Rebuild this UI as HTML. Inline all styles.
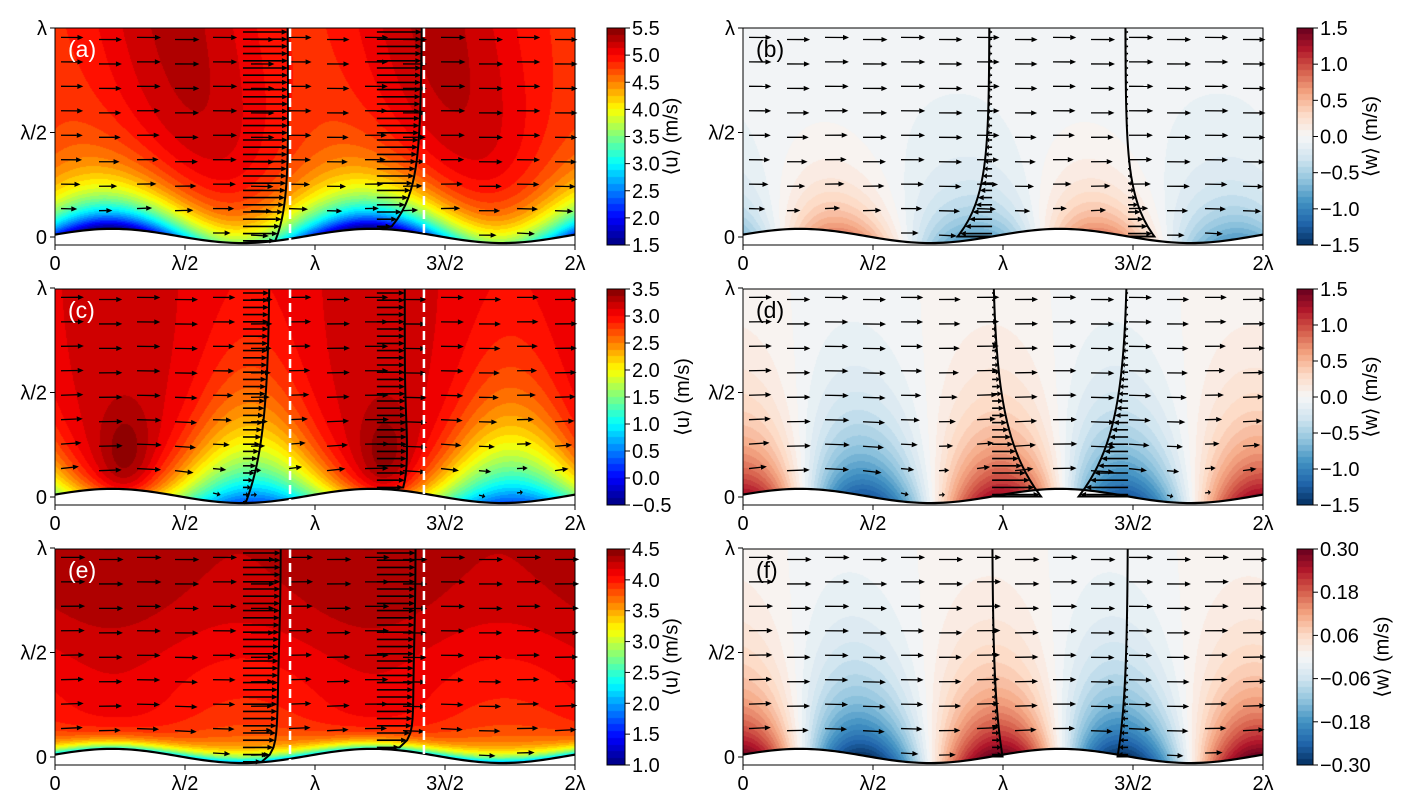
<!DOCTYPE html>
<html><head><meta charset="utf-8">
<style>
body{margin:0;background:#fff;width:1412px;height:812px;overflow:hidden;position:relative;font-family:"Liberation Sans","DejaVu Sans",sans-serif}
canvas{position:absolute}
svg{position:absolute;left:0;top:0}
</style></head>
<body>
<svg id="ov" width="1412" height="812"></svg>
<script>
// ---- data ----
const xTickLabels = ["0","λ/2","λ","3λ/2","2λ"];
const xTickValues = [0,0.5,1,1.5,2];
const yTickLabels = ["0","λ/2","λ"];
const yTickValues = [0,0.5,1];
const cbarTicksA = ["5.5","5.0","4.5","4.0","3.5","3.0","2.5","2.0","1.5"];
const cbarTicksC = ["3.5","3.0","2.5","2.0","1.5","1.0","0.5","0.0","−0.5"];
const cbarTicksE = ["4.5","4.0","3.5","3.0","2.5","2.0","1.5","1.0"];
const cbarTicksW = ["1.5","1.0","0.5","0.0","−0.5","−1.0","−1.5"];
const cbarTicksF = ["0.30","0.18","0.06","−0.06","−0.18","−0.30"];
const uRanges = [[1.5,5.5],[-0.5,3.5],[1.0,4.5]];
const wRanges = [[-1.5,1.5],[-1.5,1.5],[-0.3,0.3]];
const leftProfileBases = [0.723,1.238];
const dashedLines = [0.904,1.419];
const rightProfileBases = [0.958,1.481];
const rightProfileScale = [45,38,35];
const panelLetters = [["(a)","(b)"],["(c)","(d)"],["(e)","(f)"]];

// ---- geometry ----
const rowsTop=[28,289,549], rowsZero=[237,497,757], rowsBot=[245,505,765];
const colX0=[55,743], PXL=260, PYL=209;
const NS='http://www.w3.org/2000/svg';
const ov=document.getElementById('ov');
function el(tag,attrs,parent){const e=document.createElementNS(NS,tag);for(const k in attrs)e.setAttribute(k,attrs[k]);(parent||ov).appendChild(e);return e;}
const TAU=Math.PI*2;
function ys(x){return 0.005+0.034*Math.cos(TAU*(x-0.22));}
function uField(r,x,y){const d=Math.max(y-ys(x),0);
 if(r===0){const base=5.3-0.22*(1+Math.cos(TAU*(x-0.12+0.15*y)));const D=2.6+0.9*Math.cos(TAU*(x-0.22));return base-D*Math.exp(-d/0.16);}
 if(r===1){const A=1.6+1.2*Math.cos(TAU*(x-0.75));const dl=0.18+0.12*Math.cos(TAU*(x-0.75));
   const dark=0.3*Math.exp(-Math.pow((((x%1)+1)%1-0.27)/0.1,2))*Math.exp(-Math.pow((y-0.2)/0.25,2));
   return 3.12+0.05*Math.cos(TAU*(x-0.25))+dark-A*Math.exp(-d/dl);}
 return 4.36+0.05*Math.cos(TAU*(x-0.2))-0.55*Math.exp(-d/0.3)*(1+0.3*Math.cos(TAU*(x-0.75)))-1.7*Math.exp(-d/0.04)-0.12*Math.exp(-Math.pow((y-0.4)/0.3,2));}
function wField(r,x,y){const d=Math.max(y-ys(x),0);
 if(r===0)return 0.8*Math.cos(TAU*(x-0.38+0.1*d))*Math.exp(-d/0.2)-0.06;
 if(r===1)return 1.3*Math.cos(TAU*(x-0.98+0.05*d))*Math.exp(-d/0.3);
 return 0.3*Math.cos(TAU*(x-0.97+0.05*d))*Math.exp(-d/0.3);}
function clamp(v){return Math.max(0,Math.min(1,v));}
function jet(t){return [clamp(1.5-Math.abs(4*t-3)),clamp(1.5-Math.abs(4*t-2)),clamp(1.5-Math.abs(4*t-1))].map(v=>v*255);}
const rb=[[5,48,97],[33,102,172],[67,147,195],[146,197,222],[209,229,240],[247,247,247],[253,219,199],[244,165,130],[214,96,77],[178,24,43],[103,0,31]];
function rdbu(t){t=clamp(t)*10;const i=Math.min(9,Math.floor(t)),f=t-i;return rb[i].map((v,k)=>v+(rb[i+1][k]-v)*f);}
function quant(t,n){return (Math.floor(clamp(t)*n*0.9999)+0.5)/n;}

function drawField(r,c){
 const x0=colX0[c],top=rowsTop[r],bot=rowsBot[r],zero=rowsZero[r];
 const W=520,H=bot-top;
 const cv=document.createElement('canvas');cv.width=W;cv.height=H;cv.style.left=x0+'px';cv.style.top=top+'px';
 
 
 document.body.insertBefore(cv,ov);
 const ctx=cv.getContext('2d');const img=ctx.createImageData(W,H);
 const rng=c===0?uRanges[r]:wRanges[r];
 for(let j=0;j<H;j++){const y=(zero-(top+j+0.5))/PYL;
  for(let i=0;i<W;i++){const x=(i+0.5)/PXL;const p=(j*W+i)*4;
   let col;
   if(y<ys(x)){col=[255,255,255];}
   else{const v=c===0?uField(r,x,y):wField(r,x,y);const t=quant((v-rng[0])/(rng[1]-rng[0]),c===0?32:36);col=c===0?jet(t):rdbu(t);}
   img.data[p]=col[0];img.data[p+1]=col[1];img.data[p+2]=col[2];img.data[p+3]=255;}}
 ctx.putImageData(img,0,0);
}
function drawCbar(r,c,ticks,label){
 const x=c===0?607:1297,w=c===0?18:16,top=rowsTop[r],bot=rowsBot[r],H=bot-top;
 const cv=document.createElement('canvas');cv.width=w;cv.height=H;cv.style.left=x+'px';cv.style.top=top+'px';
 
 
 document.body.insertBefore(cv,ov);
 const ctx=cv.getContext('2d');
 for(let j=0;j<H;j++){const t=quant(1-(j+0.5)/H,c===0?32:36);const col=c===0?jet(t):rdbu(t);ctx.fillStyle=`rgb(${col[0]|0},${col[1]|0},${col[2]|0})`;ctx.fillRect(0,j,w,1);}
 el('rect',{x:x,y:top,width:w,height:H,fill:'none',stroke:'#000','stroke-width':1,});
 let maxw=0;
 ticks.forEach((t,k)=>{const yy=top+H*k/(ticks.length-1);
  el('line',{x1:x+w,y1:yy,x2:x+w+5,y2:yy,stroke:'#000',});
  const tx=el('text',{x:x+w+7,y:yy+7,'font-size':20,});tx.textContent=t;maxw=Math.max(maxw,t.length);});
 const lx=x+w+18+maxw*11.5,ly=(top+bot)/2;
 const lt=el('text',{x:lx,y:ly,'font-size':20,'text-anchor':'middle',transform:`rotate(-90 ${lx} ${ly})`,});lt.textContent=label;
}
function arrow(x1,y1,x2,y2,sw,name){
 const dx=x2-x1,dy=y2-y1,L=Math.hypot(dx,dy);if(L<0.5)return;
 const ux=dx/L,uy=dy/L,hl=Math.min(6,L*0.45),hw=2.6;
 const bx=x2-ux*hl,by=y2-uy*hl;
 const g=el('g',{});
 
 
 el('line',{x1:x1,y1:y1,x2:bx,y2:by,stroke:'#000','stroke-width':sw},g);
 el('polygon',{points:`${x2},${y2} ${bx-uy*hw},${by+ux*hw} ${bx+uy*hw},${by-ux*hw}`,fill:'#000'},g);
}
function panel(r,c){
 const x0=colX0[c],top=rowsTop[r],bot=rowsBot[r],zero=rowsZero[r];
 const px=x=>x0+x*PXL, py=y=>zero-y*PYL;
 drawField(r,c);
 const umax=[5.4,3.4,4.45][r];
 for(let i=0;i<14;i++){const xl=(6+i*38)/PXL;
  for(let j=0;j<9;j++){const yl=0.955-j*0.117-(i%2)*0.01;if(yl<ys(xl)+0.03)continue;
   const u=uField(r,xl,yl),w=wField(r,xl,yl)/(r===2?1:3);
   const L=Math.max(6,25*u/umax),ang=Math.atan2(w,Math.max(u,0.2));
   arrow(px(xl),py(yl),px(xl)+L*Math.cos(ang),py(yl)-L*Math.sin(ang),1.3,'quiver-arrow');}}
 let d='';for(let i=0;i<=520;i+=4){const xl=i/PXL;d+=(i?'L':'M')+px(xl)+','+py(ys(xl));}
 el('path',{d:d,fill:'none',stroke:'#000','stroke-width':2.2,});
 if(c===0){
  leftProfileBases.forEach((xb,k)=>{let pd='';
   for(let yp=top+4;yp<py(ys(xb));yp+=7.2){const yl=(zero-yp)/PYL;const u=uField(r,xb,yl);const x2=px(xb)+8.8*u;
    arrow(px(xb),yp,x2,yp,1.6,'profile-arrow');pd+='L'+x2+','+yp;}
   const ysur=py(ys(xb));pd+='L'+px(xb)+','+ysur;
   el('path',{d:'M'+(px(xb)+8.8*uField(r,xb,1.0))+','+top+pd,fill:'none',stroke:'#000','stroke-width':2,});});
  dashedLines.forEach(xd=>el('line',{x1:px(xd),y1:top,x2:px(xd),y2:bot,stroke:'#fff','stroke-width':2.5,'stroke-dasharray':'9 5',}));
 } else {
  const k=rightProfileScale[r];
  rightProfileBases.forEach(xb=>{let pd='M'+(px(xb)+k*wField(r,xb,1.0))+','+top;
   for(let yp=top+4;yp<py(ys(xb))-1;yp+=7.2){const yl=(zero-yp)/PYL;const w=wField(r,xb,yl);const x2=px(xb)+k*w;
    arrow(px(xb),yp,x2,yp,1.6,'profile-arrow');pd+='L'+x2+','+yp;}
   const ysur=py(ys(xb));pd+='L'+(px(xb)+k*wField(r,xb,ys(xb)))+','+ysur+'L'+px(xb)+','+ysur;
   el('path',{d:pd,fill:'none',stroke:'#000','stroke-width':2,});});
 }
 el('rect',{x:x0,y:top,width:520,height:bot-top,fill:'none',stroke:'#000','stroke-width':1,});
 xTickValues.forEach((v,k)=>{const xx=px(v);el('line',{x1:xx,y1:bot,x2:xx,y2:bot+5,stroke:'#000',});
  const t=el('text',{x:xx,y:bot+25,'font-size':20,'text-anchor':'middle',});t.textContent=xTickLabels[k];});
 yTickValues.forEach((v,k)=>{const yy=py(v);el('line',{x1:x0-5,y1:yy,x2:x0,y2:yy,stroke:'#000',});
  const t=el('text',{x:x0-8,y:yy+7,'font-size':20,'text-anchor':'end',});t.textContent=yTickLabels[k];});
 const lt=el('text',{x:x0+13,y:top+29,'font-size':23,fill:c===0?'#fff':'#000',});lt.textContent=panelLetters[r][c];
}
for(let r=0;r<3;r++){panel(r,0);panel(r,1);}
drawCbar(0,0,cbarTicksA,'⟨u⟩ (m/s)');drawCbar(1,0,cbarTicksC,'⟨u⟩ (m/s)');drawCbar(2,0,cbarTicksE,'⟨u⟩ (m/s)');
drawCbar(0,1,cbarTicksW,'⟨w⟩ (m/s)');drawCbar(1,1,cbarTicksW,'⟨w⟩ (m/s)');drawCbar(2,1,cbarTicksF,'⟨w⟩ (m/s)');
</script>
</body></html>
